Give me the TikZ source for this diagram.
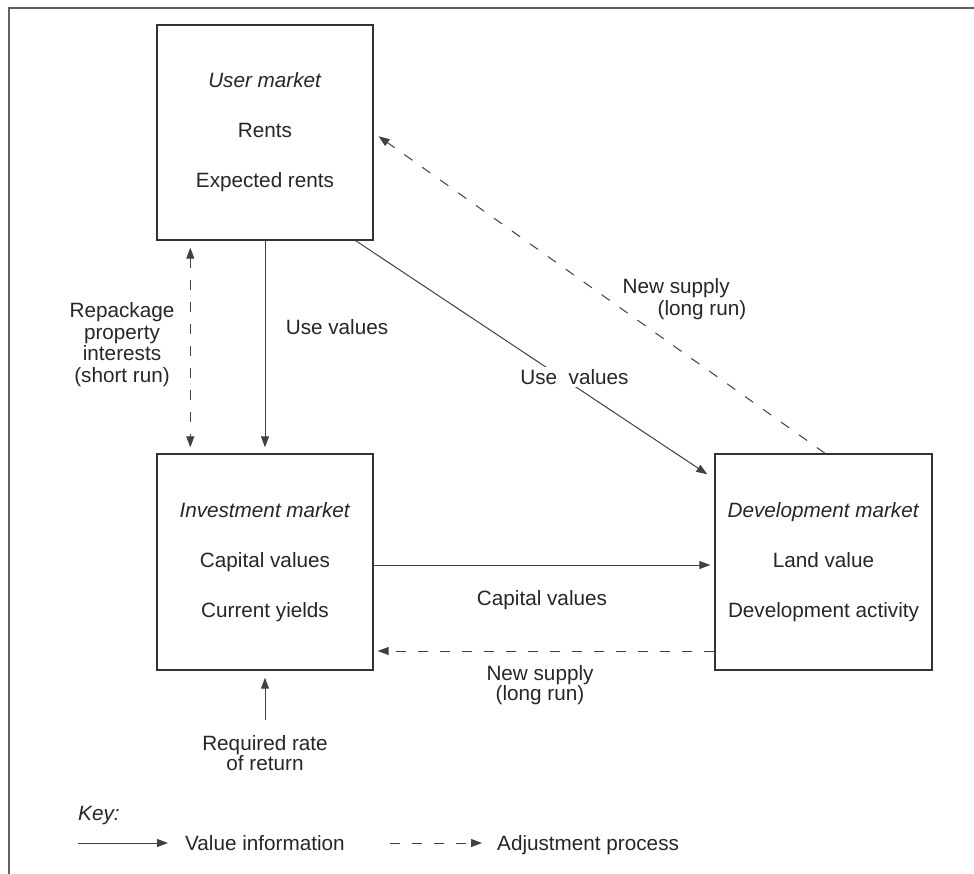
\documentclass[tikz,border=0pt]{standalone}
\usepackage{fontspec}
\setmainfont{Liberation Sans}
\usetikzlibrary{arrows.meta}
\begin{document}
\begin{tikzpicture}[x=1pt,y=-1pt,
  >={Triangle[length=11pt,width=8pt]},
  every node/.style={text=black!85, font=\fontsize{20.7}{21.7}\selectfont},
  market/.style={draw=black!80, line width=1.4pt, minimum width=216pt, minimum height=215pt,
    align=center, inner sep=0pt, font=\fontsize{20.7}{50}\selectfont},
  val/.style={->, draw=black!75, line width=1pt},
  adj/.style={val, dash pattern=on 10pt off 12pt},
  frame/.style={draw=black!62, line width=1.8pt}
]
\path[use as bounding box] (0,0) rectangle (974,873);
\clip (0,0) rectangle (974,873);
\draw[frame] (9,890) -- (9,8) -- (990,8);

% market boxes
\node[market] (user) at (265,132.5) {\textit{User market}\\Rents\\Expected rents};
\node[market, minimum height=216pt] (inv) at (265,562) {\textit{Investment market}\\Capital values\\Current yields};
\node[market, minimum width=217pt, minimum height=216pt] (dev) at (823.5,562) {\textit{Development market}\\Land value\\Development activity};

% user <-> investment
\draw[adj, <->, shorten <=7pt, shorten >=6pt] ([xshift=34pt]user.south west) -- ([xshift=34pt]inv.north west);
\node[align=center] (rp) at (122,344.5) {Repackage\\property\\interests\\(short run)};
\draw[val, shorten >=6pt] (user.south) -- (inv.north);
\node (uv1) at (337,327) {Use values};

% user -> development
\draw[val] ([xshift=-18pt]user.south east) -- ([xshift=-7pt,yshift=-21pt]dev.north west);
\node[fill=white, inner sep=2pt] (uv2) at (574.5,377) {Use~~values};

% development -> user (dashed)
\draw[adj, shorten >=6pt] ([xshift=1.5pt]dev.north) -- ([yshift=-108.5pt]user.north east);
\node[align=left, inner sep=0pt] (ns1) at (684.5,299) {New supply\\\hspace*{35pt}(long run)};

% investment <-> development
\draw[val, shorten >=4pt] ([yshift=-3pt]inv.east) -- ([yshift=-3pt]dev.west);
\node (cv) at (542,600) {Capital values};
\draw[adj, shorten >=4pt] ([yshift=-89pt]dev.west) -- ([yshift=-89pt]inv.east);
\node[align=center, font=\fontsize{20.7}{20.5}\selectfont] (ns2) at (540,685) {New supply\\(long run)};

% required rate of return
\coordinate (rrtail) at (265,720);
\draw[val, shorten >=7pt] (rrtail) -- (inv.south);
\node[align=center, font=\fontsize{20.7}{20.5}\selectfont] (rr) at (265,753) {Required rate\\of return};

% key
\node[anchor=base west, inner sep=0pt] (key) at (78,820.5) {\textit{Key:}};
\coordinate (k1a) at (78,843);
\coordinate (k1b) at (168,843);
\draw[val] (k1a) -- (k1b);
\node[anchor=base west, inner sep=0pt] (k1) at (185,850.5) {Value information};
\coordinate (k2a) at (390,843);
\coordinate (k2b) at (482,843);
\draw[adj] (k2a) -- (k2b);
\node[anchor=base west, inner sep=0pt] (k2) at (497,850.5) {Adjustment process};
\end{tikzpicture}
\end{document}
